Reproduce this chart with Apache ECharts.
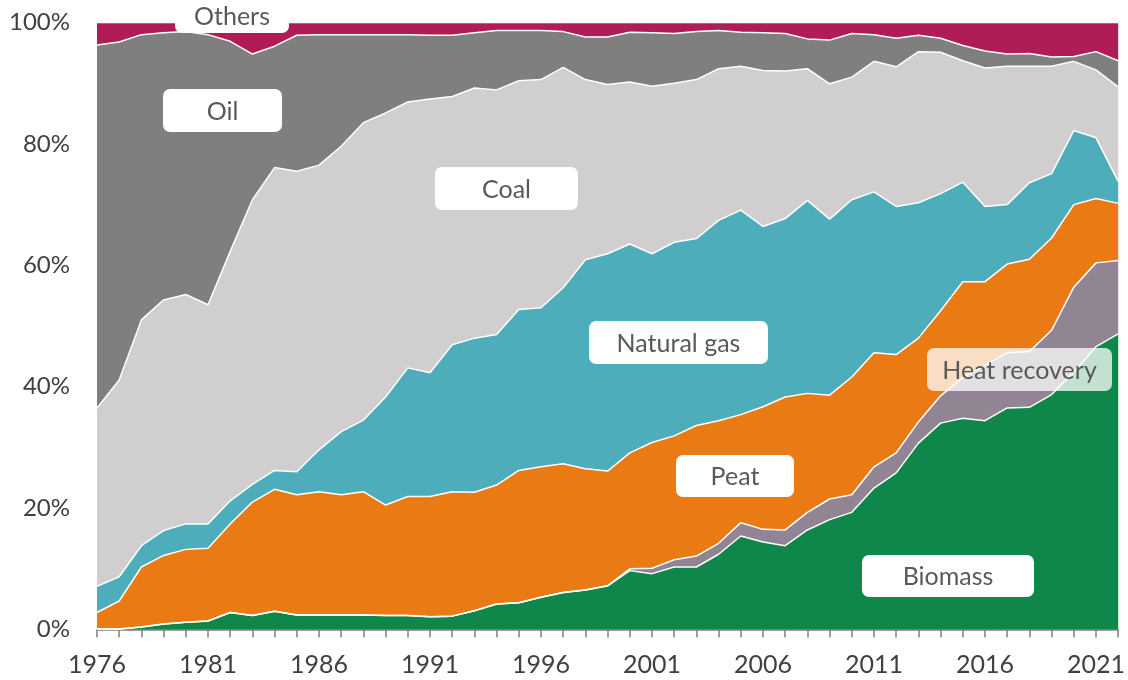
<!DOCTYPE html>
<html>
<head>
<meta charset="utf-8">
<script src="https://cdn.jsdelivr.net/npm/echarts@6/dist/echarts.min.js"></script>
<style>
  html, body { margin: 0; padding: 0; background: #fff; }
  #chartBox { width: 1128px; height: 680px; }
</style>
</head>
<body>
<div id="chartBox"></div>
<script>
// years on the x axis
const years = []
for (let y = 1976; y <= 2022; y++) years.push(String(y))

// shares in %
const biomass = [0.1, 0.1, 0.4, 0.9, 1.2, 1.4, 2.8, 2.3, 3.0, 2.4,
  2.4, 2.4, 2.4, 2.3, 2.3, 2.1, 2.2, 3.1, 4.2, 4.4,
  5.3, 6.1, 6.5, 7.2, 9.7, 9.2, 10.3, 10.3, 12.4, 15.4,
  14.4, 13.8, 16.4, 18.1, 19.3, 23.3, 25.8, 30.7, 34.0, 34.8,
  34.4, 36.5, 36.6, 38.7, 42.4, 46.6, 48.7]
const heatRecovery = [0, 0, 0, 0, 0, 0, 0, 0, 0, 0,
  0, 0, 0, 0, 0, 0, 0, 0, 0, 0,
  0, 0, 0, 0, 0.3, 0.9, 1.2, 1.8, 1.8, 2.2,
  2.1, 2.6, 2.9, 3.4, 2.9, 3.5, 3.3, 3.5, 4.5, 6.7,
  9.1, 9.1, 9.2, 10.6, 14.0, 13.8, 12.1]
const peat = [2.7, 4.6, 9.9, 11.3, 12.0, 12.0, 14.6, 18.7, 20.1, 19.8,
  20.3, 19.8, 20.3, 18.2, 19.6, 19.8, 20.5, 19.5, 19.6, 21.8,
  21.5, 21.2, 20.0, 18.9, 19.1, 20.7, 20.4, 21.5, 20.2, 17.8,
  20.2, 21.9, 19.6, 17.1, 19.4, 18.8, 16.2, 13.8, 14.0, 15.8,
  13.8, 14.6, 15.2, 15.2, 13.6, 10.6, 9.4]
const naturalGas = [4.3, 4.0, 3.5, 4.1, 4.2, 4.0, 3.8, 2.9, 3.1, 3.8,
  6.9, 10.4, 11.8, 17.8, 21.2, 20.4, 24.2, 25.4, 24.8, 26.5,
  26.2, 29.0, 34.4, 35.8, 34.4, 31.1, 31.9, 30.8, 33.0, 33.7,
  29.7, 29.4, 31.8, 29.0, 29.2, 26.5, 24.4, 22.3, 19.3, 16.4,
  12.4, 9.8, 12.6, 10.6, 12.2, 10.0, 3.6]
const coal = [29.4, 32.4, 37.2, 38.0, 37.8, 36.1, 41.1, 46.9, 49.9, 49.5,
  46.9, 47.0, 49.0, 46.8, 43.8, 45.1, 40.9, 41.2, 40.3, 37.7,
  37.6, 36.3, 29.7, 27.9, 26.7, 27.6, 26.2, 26.2, 25.0, 23.7,
  25.7, 24.3, 21.7, 22.3, 20.2, 21.5, 23.0, 24.9, 23.3, 20.0,
  22.8, 22.8, 19.2, 17.7, 11.4, 11.2, 15.6]
const oil = [59.8, 55.7, 47.0, 44.0, 43.3, 44.5, 34.6, 24.0, 20.0, 22.4,
  21.5, 18.4, 14.5, 12.9, 11.1, 10.5, 10.1, 9.1, 9.8, 8.3,
  8.1, 5.9, 7.0, 7.8, 8.2, 8.8, 8.2, 7.9, 6.3, 5.6,
  6.2, 6.2, 4.9, 7.2, 7.2, 4.4, 4.7, 2.7, 2.3, 2.5,
  2.8, 2.0, 2.1, 1.5, 0.8, 3.0, 4.3]
const others = [3.7, 3.2, 2.0, 1.7, 1.5, 2.0, 3.1, 5.2, 3.9, 2.1,
  2.0, 2.0, 2.0, 2.0, 2.0, 2.1, 2.1, 1.7, 1.3, 1.3,
  1.3, 1.5, 2.4, 2.4, 1.6, 1.7, 1.8, 1.5, 1.3, 1.6,
  1.7, 1.8, 2.7, 2.9, 1.8, 2.0, 2.6, 2.1, 2.6, 3.8,
  4.7, 5.2, 5.1, 5.7, 5.6, 4.8, 6.3]

const yTicks = [0, 20, 40, 60, 80, 100]

const seriesDefs = [
  { name: 'Biomass', data: biomass, color: '#10874a' },
  { name: 'Heat recovery', data: heatRecovery, color: '#918493' },
  { name: 'Peat', data: peat, color: '#ea7b14' },
  { name: 'Natural gas', data: naturalGas, color: '#4eadbb' },
  { name: 'Coal', data: coal, color: '#d0cecf' },
  { name: 'Oil', data: oil, color: '#7f7f7f' },
  { name: 'Others', data: others, color: '#b01c56' }
]

const font = 'Lato, "Open Sans", sans-serif'
const textColor = '#595959'

// white rounded label boxes on top of the areas
function labelBox (text, x, y, w, h, opacity) {
  return {
    type: 'group',
    children: [
      {
        type: 'rect',
        z: 100,
        shape: { x: x, y: y, width: w, height: h, r: 7 },
        style: { fill: 'rgba(255,255,255,' + (opacity || 1) + ')' }
      },
      {
        type: 'text',
        z: 101,
        x: x + w / 2,
        y: y + h / 2 + 1,
        style: {
          text: text,
          fill: textColor,
          font: '25px ' + font,
          textAlign: 'center',
          textVerticalAlign: 'middle'
        }
      }
    ]
  }
}

let myChart = echarts.init(document.getElementById('chartBox'))
myChart.setOption({
  animation: false,
  grid: {
    left: 97,
    right: 6,
    top: 22.5,
    bottom: 50.5
  },
  xAxis: {
    type: 'category',
    boundaryGap: false,
    data: years,
    axisLine: { lineStyle: { color: '#7f7f7f', width: 1.5 } },
    axisTick: { interval: 0, length: 8, lineStyle: { color: '#7f7f7f', width: 1.5 } },
    axisLabel: {
      interval: 4,
      margin: 23,
      fontSize: 25,
      fontFamily: font,
      color: '#404040'
    },
    splitLine: { show: false }
  },
  yAxis: {
    type: 'value',
    min: yTicks[0],
    max: yTicks[yTicks.length - 1],
    interval: yTicks[1] - yTicks[0],
    axisLine: { show: false },
    axisTick: { show: false },
    splitLine: { show: false },
    axisLabel: {
      formatter: '{value}%',
      margin: 27,
      fontSize: 24,
      fontFamily: font,
      color: '#404040'
    }
  },
  series: seriesDefs.map(s => ({
    name: s.name,
    type: 'line',
    stack: 'total',
    data: s.data,
    symbol: 'none',
    lineStyle: { color: '#ffffff', width: 1.5 },
    areaStyle: { color: s.color, opacity: 1 },
    itemStyle: { color: s.color }
  })),
  graphic: [
    labelBox('Others', 175, -1, 114, 34),
    labelBox('Oil', 163, 89, 119, 43),
    labelBox('Coal', 435, 167, 143, 43),
    labelBox('Natural gas', 589, 321, 179, 43),
    labelBox('Peat', 676, 455, 118, 42),
    labelBox('Heat recovery', 927, 348, 185, 43, 0.75),
    labelBox('Biomass', 862, 555, 172, 42)
  ]
})
</script>
</body>
</html>
